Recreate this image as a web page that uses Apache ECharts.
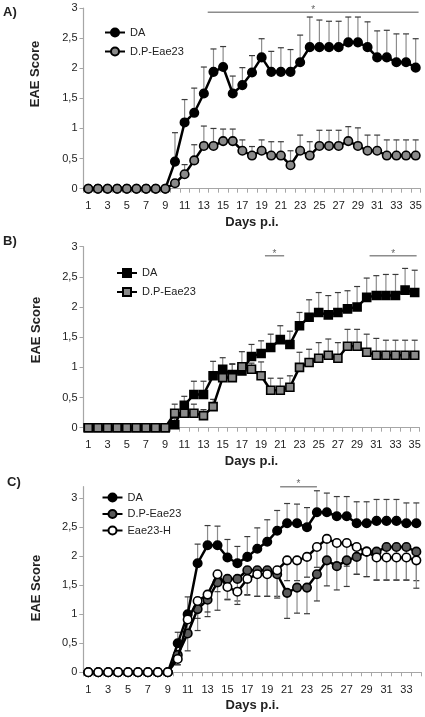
<!DOCTYPE html>
<html><head><meta charset="utf-8">
<script src="https://cdn.jsdelivr.net/npm/echarts@6/dist/echarts.min.js"></script>
<style>html,body{margin:0;padding:0;background:#fff}#c{width:425px;height:717px}</style>
</head><body><div id="c"></div>
<script>
// ---------- data ----------
const daysAB = ['1','2','3','4','5','6','7','8','9','10','11','12','13','14','15','16','17','18','19','20','21','22','23','24','25','26','27','28','29','30','31','32','33','34','35'];
const daysC = ['1','2','3','4','5','6','7','8','9','10','11','12','13','14','15','16','17','18','19','20','21','22','23','24','25','26','27','28','29','30','31','32','33','34'];
const yTicks = [0, 0.5, 1, 1.5, 2, 2.5, 3];

// Panel A
const aDA    = [0,0,0,0,0,0,0,0,0, 0.45,1.10,1.26,1.58,1.94, 2.02,1.58,1.72,1.93,2.18, 1.94,1.94,1.94,2.10,2.35, 2.35,2.35,2.35,2.43,2.43, 2.35,2.18,2.18,2.10,2.10,2.01];
const aDAerr = [0,0,0,0,0,0,0,0,0, 0.48,0.38,0.41,0.44,0.38, 0.34,0.29,0.29,0.28,0.31, 0.34,0.40,0.37,0.45,0.50, 0.45,0.43,0.43,0.42,0.42, 0.42,0.44,0.45,0.47,0.47,0.48];
const aDP    = [0,0,0,0,0,0,0,0,0, 0.09,0.24,0.47,0.71,0.71, 0.79,0.79,0.63,0.55,0.63, 0.55,0.55,0.39,0.63,0.55, 0.71,0.71,0.71,0.79,0.71, 0.63,0.63,0.55,0.55,0.55,0.55];
const aDPerr = [0,0,0,0,0,0,0,0,0, 0.06,0.16,0.26,0.33,0.29, 0.20,0.20,0.18,0.15,0.18, 0.23,0.23,0.24,0.26,0.23, 0.26,0.26,0.26,0.24,0.30, 0.26,0.26,0.26,0.26,0.26,0.26];
const sigA = [[13.4, 35.3, 2.93]];

// Panel B
const bDA    = [0,0,0,0,0,0,0,0,0, 0.05,0.37,0.55,0.55,0.86, 0.97,0.88,0.94,1.18,1.23, 1.33,1.46,1.38,1.69,1.83, 1.91,1.87,1.91,1.97,2.00, 2.16,2.19,2.19,2.19,2.28,2.24];
const bDAerr = [0,0,0,0,0,0,0,0,0, 0.10,0.15,0.22,0.22,0.24, 0.19,0.18,0.12,0.20,0.21, 0.22,0.23,0.22,0.22,0.29, 0.33,0.32,0.33,0.30,0.34, 0.32,0.33,0.35,0.35,0.36,0.37];
const bDP    = [0,0,0,0,0,0,0,0,0, 0.24,0.24,0.24,0.20,0.35, 0.83,0.83,1.01,0.97,0.86, 0.62,0.62,0.67,1.00,1.08, 1.15,1.20,1.15,1.35,1.35, 1.25,1.20,1.20,1.20,1.20,1.20];
const bDPerr = [0,0,0,0,0,0,0,0,0, 0.15,0.05,0.15,0.10,0.12, 0.15,0.22,0.25,0.10,0.23, 0.20,0.20,0.19,0.25,0.22, 0.26,0.27,0.26,0.28,0.28, 0.30,0.28,0.25,0.25,0.25,0.25];
const sigB = [[19.4, 21.4, 2.85], [30.3, 35.2, 2.85]];

// Panel C
const cDA    = [0,0,0,0,0,0,0,0,0, 0.50,1.00,1.88,2.19,2.19, 1.98,1.88,1.99,2.13,2.25, 2.44,2.57,2.57,2.50,2.76, 2.76,2.69,2.69,2.57,2.57, 2.61,2.61,2.61,2.57,2.57];
const cDAerr = [0,0,0,0,0,0,0,0,0, 0.19,0.30,0.33,0.34,0.33, 0.31,0.29,0.35,0.36,0.38, 0.35,0.34,0.33,0.34,0.37, 0.33,0.34,0.34,0.37,0.37, 0.37,0.37,0.37,0.35,0.35];
const cDP    = [0,0,0,0,0,0,0,0,0, 0.30,0.67,1.09,1.25,1.55, 1.61,1.61,1.76,1.76,1.76, 1.69,1.37,1.46,1.46,1.69, 1.93,1.83,1.93,1.99,2.08, 2.08,2.16,2.16,2.16,2.08];
const cDPerr = [0,0,0,0,0,0,0,0,0, 0.17,0.30,0.37,0.29,0.48, 0.35,0.38,0.42,0.45,0.45, 0.38,0.44,0.44,0.45,0.46, 0.44,0.41,0.45,0.30,0.43, 0.49,0.57,0.57,0.57,0.50];
const cH     = [0,0,0,0,0,0,0,0,0, 0.23,0.91,1.23,1.34,1.69, 1.47,1.39,1.61,1.69,1.69, 1.76,1.93,1.93,1.99,2.16, 2.30,2.23,2.23,2.16,2.08, 1.98,1.98,1.98,1.98,1.93];
const cHerr  = [0,0,0,0,0,0,0,0,0, 0.10,0.25,0.30,0.30,0.30, 0.22,0.22,0.28,0.38,0.38, 0.48,0.35,0.35,0.35,0.35, 0.35,0.40,0.40,0.47,0.43, 0.39,0.39,0.39,0.39,0.48];
const sigC = [[20.3, 24.0, 3.2]];

// ---------- styles ----------
const FONT = 'Liberation Sans, Arial, sans-serif';
const AXC = '#a6a6a6';
const TXT = '#222';

const grids = [
  {left: 83.5, top: 8, width: 337, height: 180.7},
  {left: 83.5, top: 246.7, width: 336, height: 181},
  {left: 83.3, top: 486.7, width: 338, height: 185.6}
];

function catAxis(g, cats) {
  return {
    type: 'category', gridIndex: g, data: cats, boundaryGap: true,
    axisLine: {lineStyle: {color: AXC, width: 1.2}},
    axisTick: {show: true, interval: 0, length: 4, lineStyle: {color: AXC, width: 1}},
    axisLabel: {interval: 1, fontSize: 11, color: TXT, fontFamily: FONT, margin: 12},
    name: 'Days p.i.', nameLocation: 'middle', nameGap: 27,
    nameTextStyle: {fontSize: 13, fontWeight: 'bold', color: TXT, fontFamily: FONT},
    splitLine: {show: false}
  };
}
function valXAxis(g, max) {
  return {type: 'value', gridIndex: g, min: 0.5, max: max, show: false, splitLine: {show: false}};
}
function yAx(g, max) {
  return {
    type: 'value', gridIndex: g, min: 0, max: max, interval: 0.5,
    axisLine: {show: true, lineStyle: {color: AXC, width: 1.2}},
    axisTick: {show: true, length: 4, lineStyle: {color: AXC}, customValues: yTicks},
    axisLabel: {fontSize: 11, color: TXT, fontFamily: FONT, margin: 6, customValues: yTicks,
      formatter: v => String(v).replace('.', ',')},
    splitLine: {show: false}
  };
}

function errSeries(xi, yi, vals, errs, dir, z) {
  return {
    type: 'custom', xAxisIndex: xi, yAxisIndex: yi, z: z, silent: true,
    encode: {x: 0, y: 1},
    data: vals.map((v, i) => [i, v, errs[i]]),
    renderItem: function (params, api) {
      const i = api.value(0), v = api.value(1), e = api.value(2);
      if (!e) return null;
      const end = dir > 0 ? v + e : v - e;
      const p0 = api.coord([i, v]);
      const p1 = api.coord([i, end]);
      return {type: 'group', children: [
        {type: 'line', shape: {x1: p0[0], y1: p0[1], x2: p1[0], y2: p1[1]}, style: {stroke: '#8c8c8c', lineWidth: 1.2}},
        {type: 'line', shape: {x1: p1[0] - 3, y1: p1[1], x2: p1[0] + 3, y2: p1[1]}, style: {stroke: '#3a3a3a', lineWidth: 1.2}}
      ]};
    }
  };
}
function sigSeries(xi, yi, data) {
  return {
    type: 'custom', xAxisIndex: xi, yAxisIndex: yi, z: 1, silent: true,
    encode: {x: [0, 1], y: 2},
    data: data,
    renderItem: function (params, api) {
      const a = api.coord([api.value(0), api.value(2)]);
      const b = api.coord([api.value(1), api.value(2)]);
      return {type: 'group', children: [
        {type: 'line', shape: {x1: a[0], y1: a[1], x2: b[0], y2: b[1]}, style: {stroke: '#8c8c8c', lineWidth: 1.5}},
        {type: 'text', x: (a[0] + b[0]) / 2, y: a[1] - 2, style: {text: '*', font: '10px ' + FONT, fill: '#666', align: 'center', verticalAlign: 'middle'}}
      ]};
    }
  };
}
function lineSeries(name, xi, yi, vals, symbol, fill, z) {
  return {
    type: 'line', name: name, xAxisIndex: xi, yAxisIndex: yi, data: vals, z: z,
    symbol: symbol, symbolSize: symbol === 'rect' ? 8 : 8.5, showSymbol: true, showAllSymbol: true,
    lineStyle: {color: '#000', width: 2.5},
    itemStyle: {color: fill, borderColor: '#000', borderWidth: 1.6},
    emphasis: {disabled: true}, animation: false
  };
}
function legend(names, left, top, gap) {
  return {
    data: names, left: left, top: top, orient: 'vertical', itemGap: gap, padding: 0,
    itemWidth: 20, itemHeight: 10, selectedMode: false,
    formatter: n => n.split('|')[1],
    textStyle: {fontSize: 11, color: TXT, fontFamily: FONT}
  };
}

const chart = echarts.init(document.getElementById('c'), null, {renderer: 'canvas'});
chart.setOption({
  animation: false,
  backgroundColor: '#fff',
  grid: grids.map(g => Object.assign({outerBoundsMode: 'none', containLabel: false}, g)),
  xAxis: [catAxis(0, daysAB), valXAxis(0, 35.5), catAxis(1, daysAB), valXAxis(1, 35.5), catAxis(2, daysC), valXAxis(2, 34.5)],
  yAxis: [yAx(0, 3), yAx(1, 3), yAx(2, 3.2)],
  legend: [
    legend(['A|DA', 'A|D.P-Eae23'], 104, 27, 8),
    legend(['B|DA', 'B|D.P-Eae23'], 116, 267.5, 8),
    legend(['C|DA', 'C|D.P-Eae23', 'C|Eae23-H'], 101.5, 492, 5.5)
  ],
  graphic: [
    {type: 'text', x: 3, y: 12, style: {text: 'A)', font: 'bold 13px ' + FONT, fill: TXT, verticalAlign: 'middle'}},
    {type: 'text', x: 3, y: 241, style: {text: 'B)', font: 'bold 13px ' + FONT, fill: TXT, verticalAlign: 'middle'}},
    {type: 'text', x: 7, y: 482, style: {text: 'C)', font: 'bold 13px ' + FONT, fill: TXT, verticalAlign: 'middle'}},
    {type: 'text', x: 35, y: 74, rotation: Math.PI / 2, style: {text: 'EAE Score', font: 'bold 13px ' + FONT, fill: TXT, align: 'center', verticalAlign: 'middle'}},
    {type: 'text', x: 36, y: 330, rotation: Math.PI / 2, style: {text: 'EAE Score', font: 'bold 13px ' + FONT, fill: TXT, align: 'center', verticalAlign: 'middle'}},
    {type: 'text', x: 36, y: 588, rotation: Math.PI / 2, style: {text: 'EAE Score', font: 'bold 13px ' + FONT, fill: TXT, align: 'center', verticalAlign: 'middle'}}
  ],
  series: [
    sigSeries(1, 0, sigA),
    errSeries(0, 0, aDA, aDAerr, 1, 2),
    errSeries(0, 0, aDP, aDPerr, 1, 2),
    lineSeries('A|DA', 0, 0, aDA, 'circle', '#000', 3),
    lineSeries('A|D.P-Eae23', 0, 0, aDP, 'circle', '#8a8a8a', 4),

    sigSeries(3, 1, sigB),
    errSeries(2, 1, bDA, bDAerr, 1, 2),
    errSeries(2, 1, bDP, bDPerr, 1, 2),
    lineSeries('B|DA', 2, 1, bDA, 'rect', '#000', 3),
    lineSeries('B|D.P-Eae23', 2, 1, bDP, 'rect', '#8a8a8a', 4),

    sigSeries(5, 2, sigC),
    errSeries(4, 2, cDA, cDAerr, 1, 2),
    errSeries(4, 2, cDP, cDPerr, -1, 2),
    errSeries(4, 2, cH, cHerr, -1, 2),
    lineSeries('C|DA', 4, 2, cDA, 'circle', '#000', 3),
    lineSeries('C|D.P-Eae23', 4, 2, cDP, 'circle', '#5a5a5a', 4),
    lineSeries('C|Eae23-H', 4, 2, cH, 'circle', '#fff', 5)
  ]
});
</script></body></html>
